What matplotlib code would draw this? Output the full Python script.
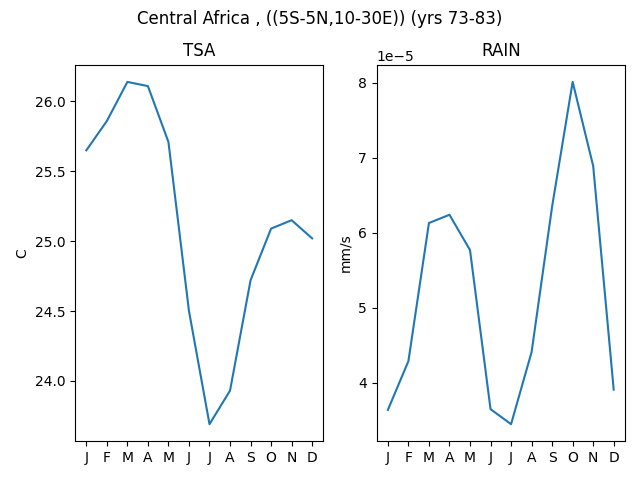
import numpy as np
import matplotlib
matplotlib.use('Agg')
import matplotlib.pyplot as plt

months = ['J', 'F', 'M', 'A', 'M', 'J', 'J', 'A', 'S', 'O', 'N', 'D']
tsa = [25.65, 25.86, 26.14, 26.11, 25.71, 24.50, 23.69, 23.93, 24.72, 25.09, 25.15, 25.02]
rain = [3.64e-5, 4.29e-5, 6.13e-5, 6.24e-5, 5.77e-5, 3.65e-5, 3.45e-5, 4.41e-5, 6.35e-5, 8.01e-5, 6.89e-5, 3.91e-5]

fig, (ax1, ax2) = plt.subplots(1, 2, figsize=(6.4, 4.8))
x = np.arange(len(months))

ax1.plot(x, tsa)
ax1.set_title('TSA')
ax1.set_ylabel('C')
ax1.set_xticks(x)
ax1.set_xticklabels(months)

ax2.plot(x, rain)
ax2.set_title('RAIN')
ax2.set_ylabel('mm/s')
ax2.set_xticks(x)
ax2.set_xticklabels(months)

fig.suptitle('Central Africa , ((5S-5N,10-30E)) (yrs 73-83)')
fig.tight_layout()
fig.subplots_adjust(top=0.865)
fig.savefig('out.png', dpi=100)
